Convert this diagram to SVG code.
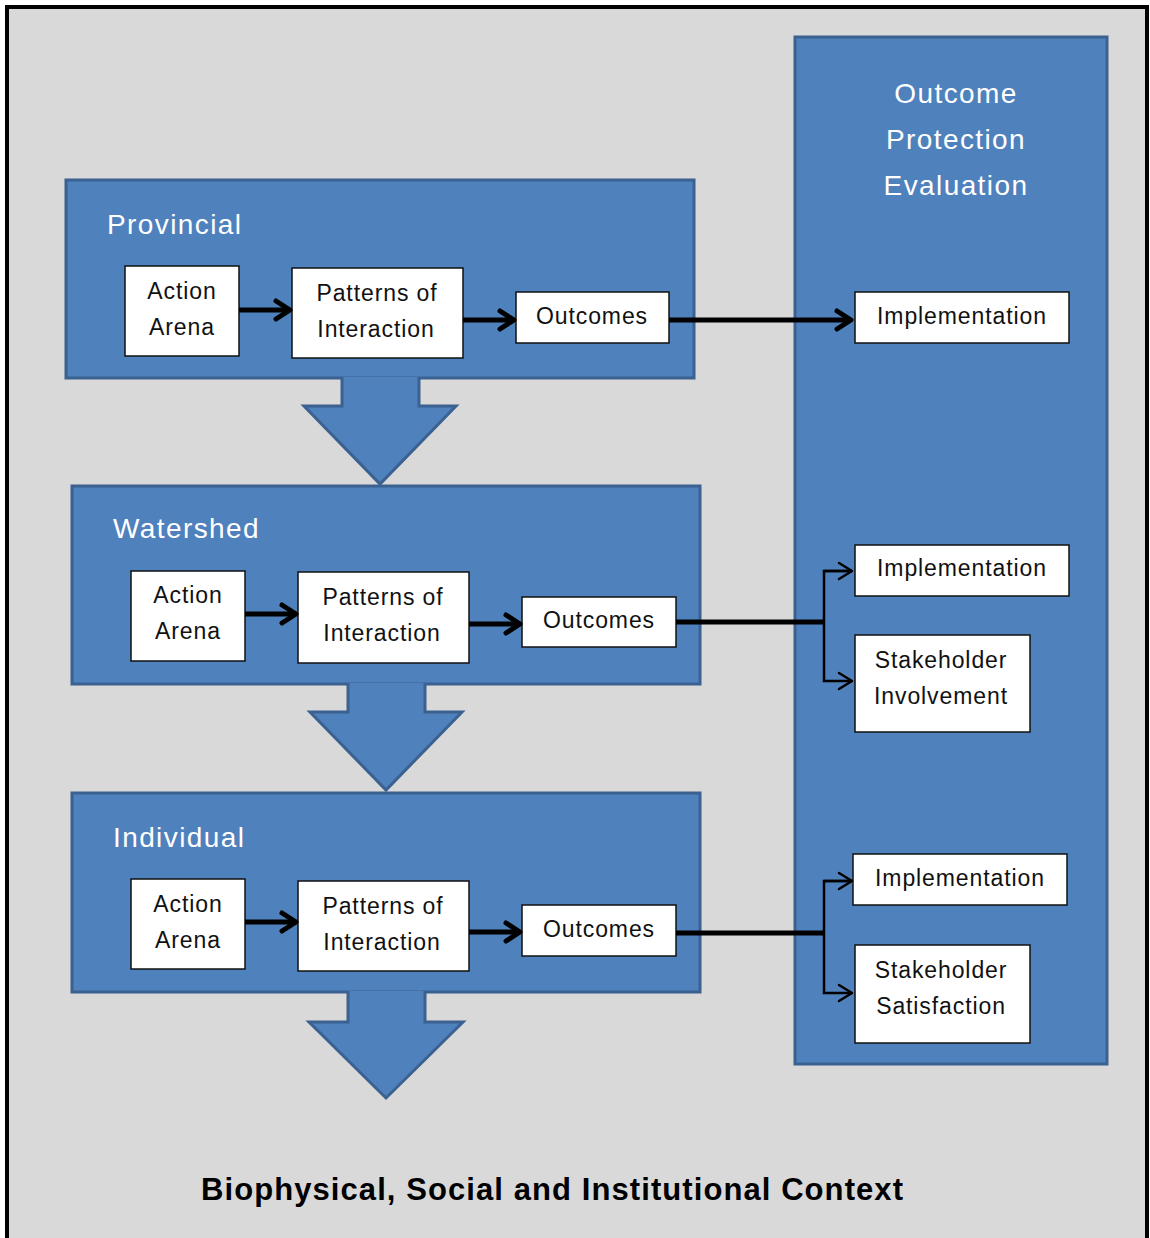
<svg xmlns="http://www.w3.org/2000/svg" width="1150" height="1238" viewBox="0 0 1150 1238">
<style>
.blue{fill:#4f81bd;stroke:#3b6190;stroke-width:3;stroke-linejoin:miter}
.box{fill:#ffffff;stroke:#111;stroke-width:1.5}
.t{font-family:"Liberation Sans",Arial,sans-serif;font-size:23px;fill:#111;text-anchor:middle;letter-spacing:0.9px}
.h{font-family:"Liberation Sans",Arial,sans-serif;font-size:28px;fill:#ffffff;letter-spacing:1.4px}
.thick{stroke:#000;stroke-width:5;fill:none}
.thin{stroke:#000;stroke-width:2.5;fill:none}
</style>
<defs>
<marker id="chev" markerUnits="userSpaceOnUse" markerWidth="30" markerHeight="30" refX="22" refY="15" orient="auto">
<path d="M8,6 L22,15 L8,24" fill="none" stroke="#000" stroke-width="5" stroke-linecap="round" stroke-linejoin="round"/>
</marker>
<marker id="open" markerUnits="userSpaceOnUse" markerWidth="24" markerHeight="24" refX="18" refY="12" orient="auto">
<path d="M5,4 L18,12 L5,20" fill="none" stroke="#000" stroke-width="2.5" stroke-linecap="round" stroke-linejoin="round"/>
</marker>
</defs>
<rect x="7" y="7" width="1140" height="1260" fill="#d9d9d9" stroke="#000" stroke-width="4"/>

<g id="evaluation">
<rect class="blue" x="795" y="37" width="312" height="1027"/>
<text class="h" x="956" y="103" text-anchor="middle">Outcome</text>
<text class="h" x="956" y="149" text-anchor="middle">Protection</text>
<text class="h" x="956" y="195" text-anchor="middle">Evaluation</text>
</g>

<g id="provincial">
<rect class="blue" x="66" y="180" width="628" height="198"/>
<text class="h" x="107" y="234">Provincial</text>
</g>
<g id="watershed">
<rect class="blue" x="72" y="486" width="628" height="198"/>
<text class="h" x="113" y="538">Watershed</text>
</g>
<g id="individual">
<rect class="blue" x="72" y="793" width="628" height="199"/>
<text class="h" x="113" y="847">Individual</text>
</g>

<g id="arrow-provincial">
<path class="blue" d="M342,377 L342,406 L304,406 L380,484 L456,406 L419,406 L419,377"/>
</g>
<g id="arrow-watershed">
<path class="blue" d="M348,683 L348,712 L310,712 L386,790 L462,712 L425,712 L425,683"/>
</g>
<g id="arrow-individual">
<path class="blue" d="M348,991 L348,1022 L309,1022 L386,1098 L463,1022 L425,1022 L425,991"/>
</g>

<g id="p-action"><rect class="box" x="125" y="266" width="114" height="90"/><text class="t" x="182" y="299">Action</text><text class="t" x="182" y="335">Arena</text></g>
<g id="p-patterns"><rect class="box" x="292" y="268" width="171" height="90"/><text class="t" x="377" y="301">Patterns of</text><text class="t" x="376" y="337">Interaction</text></g>
<g id="p-outcomes"><rect class="box" x="516" y="292" width="153" height="51"/><text class="t" x="592" y="324">Outcomes</text></g>

<g id="w-action"><rect class="box" x="131" y="571" width="114" height="90"/><text class="t" x="188" y="603">Action</text><text class="t" x="188" y="639">Arena</text></g>
<g id="w-patterns"><rect class="box" x="298" y="572" width="171" height="91"/><text class="t" x="383" y="605">Patterns of</text><text class="t" x="382" y="641">Interaction</text></g>
<g id="w-outcomes"><rect class="box" x="522" y="597" width="154" height="50"/><text class="t" x="599" y="628">Outcomes</text></g>

<g id="i-action"><rect class="box" x="131" y="879" width="114" height="90"/><text class="t" x="188" y="912">Action</text><text class="t" x="188" y="948">Arena</text></g>
<g id="i-patterns"><rect class="box" x="298" y="881" width="171" height="90"/><text class="t" x="383" y="914">Patterns of</text><text class="t" x="382" y="950">Interaction</text></g>
<g id="i-outcomes"><rect class="box" x="522" y="905" width="154" height="51"/><text class="t" x="599" y="937">Outcomes</text></g>

<g id="impl-1"><rect class="box" x="855" y="292" width="214" height="51"/><text class="t" x="962" y="324">Implementation</text></g>
<g id="impl-2"><rect class="box" x="855" y="545" width="214" height="51"/><text class="t" x="962" y="576">Implementation</text></g>
<g id="involvement"><rect class="box" x="855" y="635" width="175" height="97"/><text class="t" x="941" y="668">Stakeholder</text><text class="t" x="941" y="704">Involvement</text></g>
<g id="impl-3"><rect class="box" x="853" y="854" width="214" height="51"/><text class="t" x="960" y="886">Implementation</text></g>
<g id="satisfaction"><rect class="box" x="855" y="945" width="175" height="98"/><text class="t" x="941" y="978">Stakeholder</text><text class="t" x="941" y="1014">Satisfaction</text></g>

<g id="connectors">
<line class="thick" x1="239" y1="310" x2="290" y2="310" marker-end="url(#chev)"/>
<line class="thick" x1="463" y1="320" x2="514" y2="320" marker-end="url(#chev)"/>
<line class="thick" x1="669" y1="320" x2="851" y2="320" marker-end="url(#chev)"/>

<line class="thick" x1="245" y1="614" x2="296" y2="614" marker-end="url(#chev)"/>
<line class="thick" x1="469" y1="624" x2="520" y2="624" marker-end="url(#chev)"/>
<line class="thick" x1="676" y1="622" x2="825" y2="622"/>
<polyline class="thin" points="852,571 824,571 824,681 852,681" marker-end="url(#open)"/>
<line class="thin" x1="824" y1="571" x2="852" y2="571" marker-end="url(#open)"/>

<line class="thick" x1="245" y1="922" x2="296" y2="922" marker-end="url(#chev)"/>
<line class="thick" x1="469" y1="932" x2="520" y2="932" marker-end="url(#chev)"/>
<line class="thick" x1="676" y1="933" x2="825" y2="933"/>
<polyline class="thin" points="852,881 824,881 824,993 852,993" marker-end="url(#open)"/>
<line class="thin" x1="824" y1="881" x2="852" y2="881" marker-end="url(#open)"/>
</g>

<text x="552" y="1200" text-anchor="middle" font-family="'Liberation Sans',Arial,sans-serif" font-size="31" font-weight="bold" fill="#000" textLength="702" lengthAdjust="spacing">Biophysical, Social and Institutional Context</text>
</svg>
